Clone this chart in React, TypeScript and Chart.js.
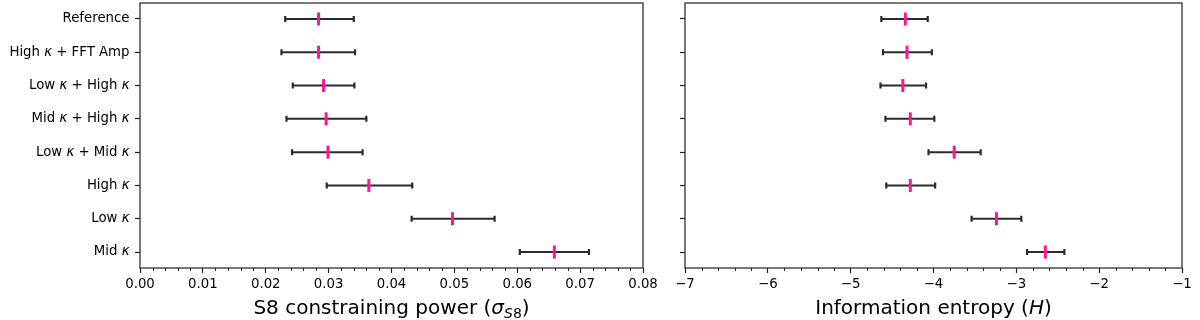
import React, { useEffect, useRef } from 'react';
import { Chart, registerables } from 'chart.js';

Chart.register(...registerables);

// ---------- data ----------
const categories = [
  'Reference',
  'High κ + FFT Amp',
  'Low κ + High κ',
  'Mid κ + High κ',
  'Low κ + Mid κ',
  'High κ',
  'Low κ',
  'Mid κ',
];

const s8Center = [0.0284, 0.0284, 0.0292, 0.0296, 0.0299, 0.0364, 0.0497, 0.0659];
const s8Low = [0.0231, 0.0225, 0.0243, 0.0233, 0.0242, 0.0297, 0.0432, 0.0604];
const s8High = [0.0340, 0.0342, 0.0341, 0.0360, 0.0354, 0.0433, 0.0564, 0.0714];

const hCenter = [-4.34, -4.32, -4.37, -4.28, -3.75, -4.28, -3.24, -2.65];
const hLow = [-4.63, -4.61, -4.64, -4.58, -4.06, -4.57, -3.54, -2.87];
const hHigh = [-4.07, -4.02, -4.09, -3.99, -3.43, -3.98, -2.94, -2.42];

const s8TickValues = [0, 0.01, 0.02, 0.03, 0.04, 0.05, 0.06, 0.07, 0.08];
const hTickValues = [-7, -6, -5, -4, -3, -2, -1];

type Seg = { t: string; italic?: boolean; sub?: boolean };

const s8Title: Seg[] = [
  { t: 'S8 constraining power (' },
  { t: 'σ', italic: true },
  { t: 'S', italic: true, sub: true },
  { t: '8', sub: true },
  { t: ')' },
];
const hTitle: Seg[] = [
  { t: 'Information entropy (' },
  { t: 'H', italic: true },
  { t: ')' },
];

// ---------- styles ----------
const FONT = '"DejaVu Sans", Verdana, sans-serif';
const PINK = '#ff1493';
const BAR = '#2b2b2b';
const AXIS = '#222222';

function labelSegs(label: string): Seg[] {
  const parts = label.split('κ');
  const out: Seg[] = [];
  parts.forEach((p, i) => {
    if (p) out.push({ t: p });
    if (i < parts.length - 1) out.push({ t: 'κ', italic: true });
  });
  return out;
}

function drawRich(
  ctx: CanvasRenderingContext2D,
  segs: Seg[],
  x: number,
  y: number,
  align: 'left' | 'right' | 'center',
  size: number
) {
  const fontOf = (s: Seg) =>
    `${s.italic ? 'italic ' : ''}${s.sub ? size * 0.7 : size}px ${FONT}`;
  let total = 0;
  const widths: number[] = [];
  segs.forEach((s) => {
    ctx.font = fontOf(s);
    const w = ctx.measureText(s.t).width;
    widths.push(w);
    total += w;
  });
  let cx = align === 'right' ? x - total : align === 'center' ? x - total / 2 : x;
  ctx.textAlign = 'left';
  segs.forEach((s, i) => {
    ctx.font = fontOf(s);
    ctx.fillText(s.t, cx, y + (s.sub ? size * 0.22 : 0));
    cx += widths[i];
  });
}

type PanelProps = {
  centers: number[];
  lows: number[];
  highs: number[];
  xTicks: number[];
  fmt: (v: number) => string;
  minorDiv: number;
  title: Seg[];
  showLabels: boolean;
  left: number;
  width: number;
  yWidth: number;
  padRight: number;
};

function Panel(props: PanelProps) {
  const ref = useRef<HTMLCanvasElement>(null);
  useEffect(() => {
    const canvas = ref.current;
    if (!canvas) return;
    const { centers, lows, highs, xTicks, fmt, minorDiv, title, showLabels, yWidth, padRight } = props;

    const plugin = {
      id: 'errorDecor',
      beforeDatasetsDraw(chart: any) {
        const ctx = chart.ctx as CanvasRenderingContext2D;
        const xs = chart.scales.x;
        const ys = chart.scales.y;
        ctx.save();
        ctx.strokeStyle = BAR;
        ctx.lineCap = 'butt';
        centers.forEach((_, i) => {
          const y = ys.getPixelForValue(i);
          const xl = xs.getPixelForValue(lows[i]);
          const xh = xs.getPixelForValue(highs[i]);
          ctx.lineWidth = 2;
          ctx.beginPath();
          ctx.moveTo(xl, y);
          ctx.lineTo(xh, y);
          ctx.stroke();
          ctx.lineWidth = 2.2;
          ctx.beginPath();
          ctx.moveTo(xl, y - 3);
          ctx.lineTo(xl, y + 3);
          ctx.moveTo(xh, y - 3);
          ctx.lineTo(xh, y + 3);
          ctx.stroke();
        });
        ctx.restore();
      },
      afterDraw(chart: any) {
        const ctx = chart.ctx as CanvasRenderingContext2D;
        const a = chart.chartArea;
        const xs = chart.scales.x;
        const ys = chart.scales.y;
        ctx.save();
        // frame
        ctx.strokeStyle = AXIS;
        ctx.lineWidth = 1.2;
        ctx.strokeRect(a.left, a.top, a.right - a.left, a.bottom - a.top);
        // minor ticks
        ctx.lineWidth = 1;
        ctx.beginPath();
        for (let k = 0; k < xTicks.length - 1; k++) {
          const step = (xTicks[k + 1] - xTicks[k]) / minorDiv;
          for (let m = 1; m < minorDiv; m++) {
            const px = Math.round(xs.getPixelForValue(xTicks[k] + step * m)) + 0.5;
            ctx.moveTo(px, a.bottom);
            ctx.lineTo(px, a.bottom + 3);
          }
        }
        ctx.stroke();
        // y labels
        ctx.fillStyle = '#000';
        ctx.textBaseline = 'middle';
        if (showLabels) {
          categories.forEach((c, i) => {
            const y = ys.getPixelForValue(i);
            drawRich(ctx, labelSegs(c), a.left - 10.5, y, 'right', 13.3);
          });
        }
        // axis title
        ctx.textBaseline = 'alphabetic';
        drawRich(ctx, title, (a.left + a.right) / 2, 314, 'center', 20);
        ctx.restore();
      },
    };

    const zeroPad = (s: any) => {
      s.paddingTop = 0;
      s.paddingBottom = 0;
      s.paddingLeft = 0;
      s.paddingRight = 0;
    };

    const chart = new Chart(canvas, {
      type: 'scatter',
      data: {
        datasets: [
          {
            data: centers.map((x, i) => ({ x, y: i })),
            pointStyle: 'line',
            rotation: 90,
            radius: 6.5,
            hoverRadius: 6.5,
            borderWidth: 3,
            borderColor: PINK,
            backgroundColor: PINK,
          } as any,
        ],
      },
      options: {
        animation: false,
        responsive: false,
        maintainAspectRatio: false,
        events: [],
        layout: { autoPadding: false, padding: { top: 3, right: padRight, left: 0, bottom: 0 } },
        plugins: { legend: { display: false }, tooltip: { enabled: false } },
        scales: {
          x: {
            type: 'linear',
            min: xTicks[0],
            max: xTicks[xTicks.length - 1],
            afterBuildTicks: (s: any) => {
              s.ticks = xTicks.map((v) => ({ value: v }));
            },
            ticks: {
              callback: (v: any) => fmt(Number(v)),
              font: { family: FONT, size: 13.3 },
              color: '#000',
              padding: 4,
              maxRotation: 0,
              autoSkip: false,
            },
            grid: {
              drawOnChartArea: false,
              drawTicks: true,
              tickLength: 5,
              tickColor: AXIS,
              tickWidth: 1.2,
            },
            border: { display: false },
            afterFit: (s: any) => {
              s.height = 52;
              zeroPad(s);
            },
          },
          y: {
            type: 'linear',
            reverse: true,
            min: -0.48,
            max: categories.length - 1 + 0.48,
            afterBuildTicks: (s: any) => {
              s.ticks = categories.map((_, i) => ({ value: i }));
            },
            ticks: { display: false },
            grid: {
              drawOnChartArea: false,
              drawTicks: true,
              tickLength: 5,
              tickColor: AXIS,
              tickWidth: 1.2,
            },
            border: { display: false },
            afterFit: (s: any) => {
              s.width = yWidth;
              zeroPad(s);
            },
          },
        },
      } as any,
      plugins: [plugin],
    });
    return () => chart.destroy();
  }, []);

  return (
    <canvas
      ref={ref}
      width={props.width}
      height={320}
      style={{ position: 'absolute', left: props.left, top: 0, width: props.width, height: 320 }}
    />
  );
}

export default function App() {
  return (
    <div style={{ position: 'fixed', left: 0, top: 0, width: 1200, height: 320, background: '#fff' }}>
      <Panel
        centers={s8Center}
        lows={s8Low}
        highs={s8High}
        xTicks={s8TickValues}
        fmt={(v) => v.toFixed(2)}
        minorDiv={5}
        title={s8Title}
        showLabels={true}
        left={0}
        width={660}
        yWidth={140}
        padRight={17}
      />
      <Panel
        centers={hCenter}
        lows={hLow}
        highs={hHigh}
        xTicks={hTickValues}
        fmt={(v) => (v < 0 ? '\u2212' + String(Math.abs(v)) : String(v))}
        minorDiv={5}
        title={hTitle}
        showLabels={false}
        left={660}
        width={540}
        yWidth={25}
        padRight={18}
      />
    </div>
  );
}
